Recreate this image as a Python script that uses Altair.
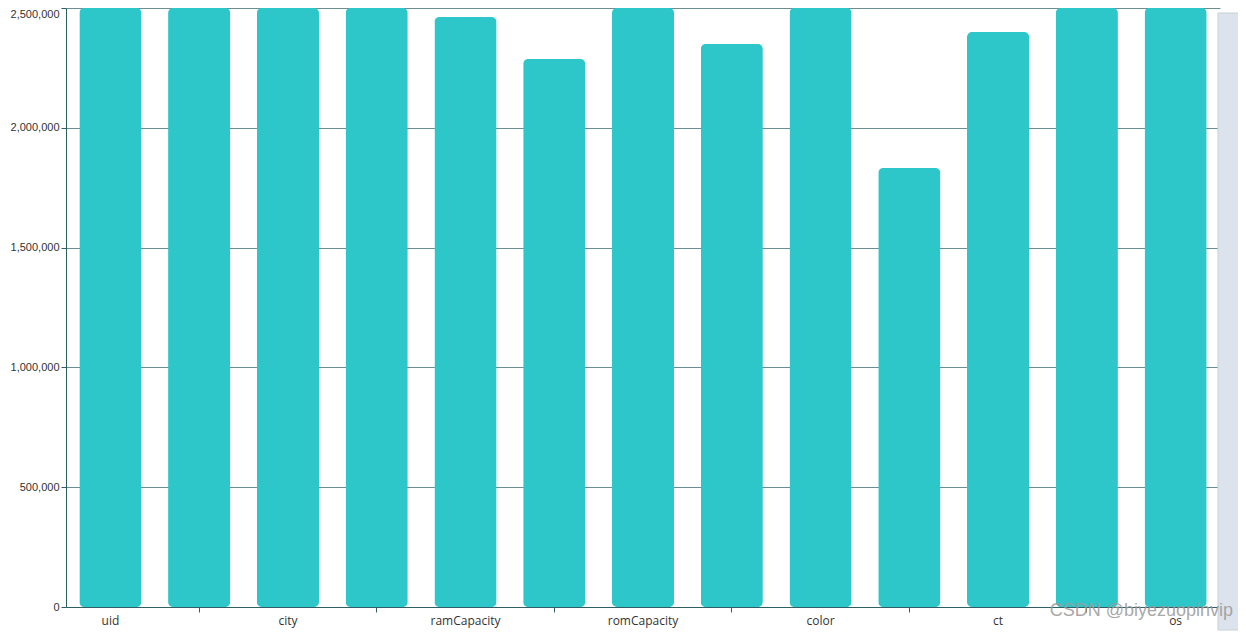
import altair as alt
import pandas as pd

categories = ["uid", "sex", "city", "brand", "ramCapacity", "ramUsage",
              "romCapacity", "romUsage", "color", "fontSize", "ct", "carrier", "os"]
counts = [2500000, 2500000, 2500000, 2500000, 2462000, 2287000,
          2500000, 2350000, 2500000, 1832000, 2400000, 2500000, 2500000]
y_ticks = [0, 500000, 1000000, 1500000, 2000000, 2500000]

df = pd.DataFrame({"field": categories, "count": counts})
shown = [c for i, c in enumerate(categories) if i % 2 == 0]
hidden = [c for i, c in enumerate(categories) if i % 2 == 1]
shown_js = "[" + ",".join("'%s'" % s for s in shown) + "]"
hidden_js = "[" + ",".join("'%s'" % s for s in hidden) + "]"

FONT = "Open Sans"

bars = alt.Chart(df).mark_bar(
    color="#2ec7c9", cornerRadius=5
).encode(
    x=alt.X("field:N", sort=categories, title=None,
            scale=alt.Scale(paddingInner=0.3, paddingOuter=0.15),
            axis=alt.Axis(
                labelAngle=0,
                labelExpr="indexof(%s, datum.value) >= 0 ? datum.value : ''" % shown_js,
                labelFont=FONT, labelFontSize=12, labelColor="#333333",
                labelPadding=3, labelBaseline="top",
                domainColor="#2f5f66", domainWidth=1,
                tickSize=5,
                tickColor={"condition": {"test": "indexof(%s, datum.value) >= 0" % hidden_js,
                                         "value": "#2f5f66"},
                           "value": "transparent"},
                grid=False)),
    y=alt.Y("count:Q", title=None,
            scale=alt.Scale(domain=[0, 2500000], nice=False),
            axis=alt.Axis(values=y_ticks,
                          labelExpr="format(datum.value, ',')",
                          labelFont="Liberation Sans", labelFontSize=11,
                          labelColor="#333333",
                          labelBaseline={"condition": {"test": "datum.value >= 2500000",
                                                       "value": "top"},
                                         "value": "middle"},
                          labelPadding=2, tickSize=5, tickColor="#2f5f66",
                          domainColor="#2f5f66",
                          grid=True, gridColor="#6a8e93", gridWidth=1)),
)

slider = alt.Chart(pd.DataFrame({"k": [0]})).mark_rect(
    fill="#dde3ec", stroke="#c8d0da", strokeWidth=1, clip=False
).encode(x=alt.value(1152), x2=alt.value(1174), y=alt.value(5), y2=alt.value(622))

watermark = alt.Chart(pd.DataFrame({"t": ["CSDN @biyezuopinvip"]})).mark_text(
    font="Liberation Sans", fontSize=18, color="#9a9a9a", align="right",
    baseline="middle", opacity=0.85, clip=False
).encode(text="t:N", x=alt.value(1167), y=alt.value(603))

chart = alt.layer(bars, slider, watermark).properties(
    width=1154, height=599,
    autosize=alt.AutoSizeParams(type="none"),
    padding={"left": 58, "top": 0, "right": 18, "bottom": 30},
).configure_view(stroke=None)

chart.save("out.html", embed_options={"renderer": "svg", "actions": False})
